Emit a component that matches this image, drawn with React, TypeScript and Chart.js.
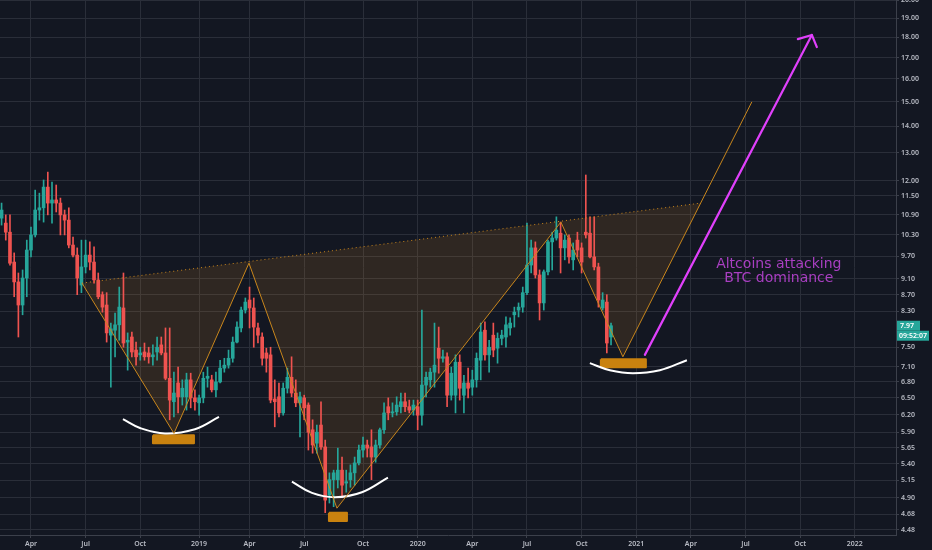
import React, { useEffect, useRef } from "react";
import { Chart, registerables } from "chart.js";

Chart.register(...registerables);

// Weekly candles (x = week index), BTC dominance %
const opens = [
  10.8, 10.65, 10.38, 9.54, 9.02, 8.45, 9.12, 9.87, 10.3, 11.05, 11.12, 11.79, 11.27, 11.37, 11.27, 10.9, 10.74, 10.01, 9.73, 8.94,
  9.41, 9.73, 9.54, 9.07, 8.7, 8.45, 7.76, 7.87, 7.99, 8.38, 7.61, 7.72, 7.44, 7.34, 7.4, 7.38, 7.3, 7.4, 7.55, 7.38,
  6.87, 6.43, 6.78, 6.52, 6.52, 6.84, 6.5, 6.41, 6.5, 6.87, 6.84, 6.65, 6.8, 7.07, 7.13, 7.27, 7.61, 7.92, 8.33, 8.57,
  8.38, 7.92, 7.72, 7.38, 7.34, 6.48, 6.52, 6.23, 6.68, 6.89, 6.59, 6.41, 6.5, 6.37, 5.94, 5.72, 6.02, 5.66, 4.94, 5.16,
  5.16, 5.3, 5.11, 5.16, 5.26, 5.41, 5.61, 5.69, 5.66, 5.5, 5.69, 5.94, 6.34, 6.23, 6.25, 6.34, 6.43, 6.34, 6.28, 6.34,
  6.19, 6.74, 6.84, 6.99, 7.48, 7.27, 7.3, 6.55, 6.55, 7.19, 6.55, 6.78, 6.7, 6.84, 7.23, 7.87, 7.34, 7.76, 7.48, 7.69,
  7.72, 7.92, 8.22, 8.33, 8.4, 8.75, 9.46, 9.93, 9.2, 8.5, 9.28, 10.1, 10.21, 10.35, 9.93, 10.21, 9.6, 10.15, 9.93, 10.38,
  10.35, 9.68, 9.41, 8.38, 8.52, 7.72,
];
const closes = [
  11.05, 10.38, 9.51, 9.02, 8.45, 9.12, 9.87, 10.3, 11.05, 11.12, 11.79, 11.27, 11.37, 11.27, 10.9, 10.74, 10.01, 9.73, 9.12, 9.41,
  9.73, 9.54, 9.07, 8.65, 8.4, 7.81, 7.9, 7.99, 8.4, 7.59, 7.65, 7.4, 7.3, 7.38, 7.3, 7.3, 7.34, 7.5, 7.38, 6.87,
  6.46, 6.59, 6.52, 6.68, 6.84, 6.5, 6.43, 6.5, 6.87, 6.91, 6.65, 6.8, 7.07, 7.13, 7.27, 7.61, 7.94, 8.33, 8.52, 8.38,
  7.94, 7.76, 7.27, 7.27, 6.46, 6.43, 6.23, 6.68, 6.89, 6.59, 6.41, 6.52, 6.32, 5.9, 5.69, 5.9, 5.66, 4.87, 5.16, 5.26,
  5.3, 5.08, 5.13, 5.26, 5.41, 5.61, 5.69, 5.64, 5.5, 5.69, 5.94, 6.23, 6.23, 6.25, 6.37, 6.43, 6.34, 6.28, 6.37, 6.19,
  6.74, 6.89, 6.99, 7.13, 7.27, 7.3, 6.55, 6.97, 7.19, 6.68, 6.78, 6.68, 6.84, 7.27, 7.83, 7.34, 7.5, 7.44, 7.69, 7.76,
  7.99, 8.03, 8.28, 8.4, 8.75, 9.46, 9.93, 9.2, 8.5, 9.28, 10.1, 10.21, 10.44, 9.93, 10.15, 9.68, 9.87, 9.87, 9.54, 10.3,
  9.68, 9.41, 8.57, 8.57, 7.59, 7.97,
];
const highs = [
  11.27, 10.9, 10.9, 9.79, 9.25, 9.33, 10.15, 10.53, 11.69, 11.59, 12.03, 12.3, 11.96, 11.86, 11.43, 11.05, 11.12, 10.24, 9.93, 10.15,
  10.15, 10.1, 9.96, 9.25, 8.77, 8.75, 8.03, 8.26, 8.89, 9.25, 7.81, 7.83, 7.61, 7.5, 7.59, 7.5, 7.55, 7.72, 7.72, 7.92,
  7.92, 6.99, 7.09, 6.84, 6.97, 6.97, 6.65, 6.55, 6.99, 7.09, 6.93, 6.99, 7.23, 7.27, 7.44, 7.72, 8.06, 8.4, 8.62, 8.89,
  8.62, 8.03, 7.81, 7.48, 7.5, 6.84, 6.78, 6.78, 7.07, 7.3, 6.84, 6.61, 6.55, 6.41, 6.11, 6.02, 6.43, 5.77, 5.26, 5.3,
  5.64, 5.5, 5.3, 5.38, 5.5, 5.69, 5.82, 5.77, 5.94, 5.77, 5.97, 6.41, 6.5, 6.41, 6.52, 6.59, 6.59, 6.46, 6.46, 6.46,
  8.33, 6.99, 7.07, 8.03, 7.94, 7.44, 7.38, 7.09, 7.34, 7.34, 6.93, 7.07, 7.03, 7.38, 8.03, 8.06, 7.65, 8.03, 7.81, 7.87,
  8.17, 8.15, 8.4, 8.5, 8.89, 10.65, 10.15, 10.1, 9.33, 9.33, 10.15, 10.38, 10.84, 10.68, 10.3, 10.3, 10.07, 10.38, 10.07, 12.2,
  10.84, 10.84, 9.51, 8.75, 8.7, 8.03,
];
const lows = [
  10.59, 10.15, 9.46, 8.65, 7.72, 8.22, 8.65, 9.68, 10.24, 10.74, 10.68, 10.9, 10.65, 10.99, 10.3, 10.3, 9.93, 9.68, 8.7, 8.75,
  9.25, 9.33, 8.99, 8.6, 8.28, 7.61, 6.7, 7.3, 7.65, 7.5, 7.03, 7.3, 7.13, 7.23, 7.23, 7.17, 7.13, 7.23, 7.34, 6.84,
  6.11, 6.16, 6.23, 6.37, 6.28, 6.32, 6.28, 6.19, 6.41, 6.7, 6.61, 6.52, 6.78, 6.99, 7.07, 7.19, 7.59, 7.83, 8.26, 7.92,
  7.5, 7.59, 7.13, 6.99, 6.41, 5.99, 6.16, 6.19, 6.59, 6.52, 6.34, 5.82, 6.11, 5.61, 5.56, 5.56, 5.62, 4.7, 4.83, 4.78,
  5.04, 4.91, 4.98, 5.05, 5.08, 5.38, 5.5, 5.5, 5.16, 5.42, 5.64, 5.88, 6.11, 6.16, 6.19, 6.23, 6.25, 6.23, 6.19, 5.94,
  6.02, 6.52, 6.7, 6.7, 6.97, 7.19, 6.34, 6.46, 6.23, 6.46, 6.23, 6.5, 6.55, 6.7, 6.84, 7.23, 6.99, 7.3, 7.17, 7.55,
  7.5, 7.76, 7.94, 8.17, 8.28, 8.7, 9.25, 9.12, 8.1, 8.33, 9.2, 9.33, 10.15, 9.25, 9.6, 9.51, 9.33, 9.68, 9.25, 10.21,
  9.65, 9.33, 8.4, 8.33, 7.38, 7.55,
];

// Axis ticks
const yTickValues = [20, 19, 18, 17, 16, 15, 14, 13, 12, 11.5, 10.9, 10.3, 9.7, 9.1, 8.7, 8.3, 7.5, 7.1, 6.8, 6.5, 6.2, 5.9, 5.65, 5.4, 5.15, 4.9, 4.68, 4.48];
const xTickPositions = [7, 20, 33, 47, 59, 72, 86, 99, 112, 125, 138, 151, 164, 177, 190, 203];
const xTickLabels = ["Apr", "Jul", "Oct", "2019", "Apr", "Jul", "Oct", "2020", "Apr", "Jul", "Oct", "2021", "Apr", "Jul", "Oct", "2022"];

// Drawings (x = week index, y = value)
const patternX = [19.13, 41.01, 58.86, 79.79, 133.07, 147.82, 178.51];
const patternY = [8.99, 5.88, 9.51, 4.76, 10.68, 7.3, 15.0];
const trendX = [19.13, 166.38];
const trendY = [8.99, 11.27];
const shapeX = [19.13, 41.01, 58.86, 79.79, 133.07, 147.82, 166.38, 19.13];
const shapeY = [8.99, 5.88, 9.51, 4.76, 10.68, 7.3, 11.27, 8.99];
const arc1X = [28.88, 32.93, 38.88, 46.01, 51.72];
const arc1Y = [6.12, 5.97, 5.88, 5.95, 6.16];
const arc2X = [69.08, 73.84, 79.31, 85.73, 91.92];
const arc2Y = [5.13, 4.97, 4.91, 4.98, 5.19];
const arc3X = [139.97, 144.73, 150.2, 156.62, 163.05];
const arc3Y = [7.17, 7.03, 6.97, 7.03, 7.23];
const box1X = [36.02, 45.77, 45.77, 36.02, 36.02];
const box1Y = [5.85, 5.85, 5.72, 5.72, 5.85];
const box2X = [77.89, 82.17, 82.17, 77.89, 77.89];
const box2Y = [4.7, 4.7, 4.59, 4.59, 4.7];
const box3X = [142.58, 153.29, 153.29, 142.58, 142.58];
const box3Y = [7.25, 7.25, 7.09, 7.09, 7.25];
const arrowX = [153.05, 192.78];
const arrowY = [7.34, 18.12];
const arrowHeadX = [189.45, 192.78, 193.97];
const arrowHeadY = [17.91, 18.12, 17.51];
const noteLines = ["Altcoins attacking", "BTC dominance"];
const noteX = 184.92;
const noteY = 9.3;
const timerText = "09:52:07";

const X_MIN = -0.373;
const X_MAX = 212.8;
const Y_MIN = 4.413;
const Y_MAX = 20.0;

const UP = "#26a69a";
const DOWN = "#ef5350";
const GRID = "#2a2e39";
const AXIS = "#3c404b";
const TEXT = "#b8bbc4";
const ORANGE = "#c8861c";
const BOX = "#c9820f";

export default function App() {
  const ref = useRef<HTMLCanvasElement | null>(null);

  useEffect(() => {
    const canvas = ref.current;
    if (!canvas) return;
    const colors = closes.map((c, i) => (c >= opens[i] ? UP : DOWN));
    const pts = (xs: number[], ys: number[]) => xs.map((x, i) => ({ x, y: ys[i] }));

    const bgPlugin = {
      id: "bg",
      beforeDraw(chart: any) {
        const ctx = chart.ctx;
        ctx.save();
        ctx.fillStyle = "#131722";
        ctx.fillRect(0, 0, chart.width, chart.height);
        ctx.restore();
      },
    };

    const notesPlugin = {
      id: "notes",
      afterDatasetsDraw(chart: any) {
        const { ctx } = chart;
        const x = chart.scales.x;
        const y = chart.scales.y;
        ctx.save();
        ctx.fillStyle = "#a93fc2";
        ctx.font = "14px 'DejaVu Sans'";
        ctx.textAlign = "center";
        ctx.textBaseline = "middle";
        const px = x.getPixelForValue(noteX);
        const py = y.getPixelForValue(noteY);
        ctx.fillText(noteLines[0], px, py - 6.4);
        ctx.fillText(noteLines[1], px, py + 7);
        ctx.restore();
      },
      afterDraw(chart: any) {
        const { ctx } = chart;
        const y = chart.scales.y;
        const last = closes[closes.length - 1];
        const py = y.getPixelForValue(last);
        const left = chart.chartArea.right + 1;
        ctx.save();
        ctx.fillStyle = UP;
        ctx.fillRect(left, py - 5, 23, 10);
        ctx.fillRect(left, py + 5, 32, 10);
        ctx.fillStyle = "#ffffff";
        ctx.font = "600 7px 'Noto Sans'";
        ctx.textAlign = "left";
        ctx.textBaseline = "middle";
        ctx.fillText(last.toFixed(2), left + 3, py);
        ctx.fillText(timerText, left + 2, py + 10);
        ctx.restore();
      },
    };

    const lineDs = (data: any[], color: string, width: number, extra: any = {}) => ({
      type: "line",
      data,
      borderColor: color,
      borderWidth: width,
      pointRadius: 0,
      fill: false,
      tension: 0,
      order: 1,
      ...extra,
    });

    const chart = new Chart(canvas, {
      type: "bar",
      data: {
        datasets: [
          lineDs(pts(shapeX, shapeY), "rgba(0,0,0,0)", 0, {
            fill: "shape",
            backgroundColor: "rgba(240,150,40,0.13)",
            order: 10,
          }),
          {
            type: "bar",
            data: closes.map((_, i) => ({ x: i, y: [lows[i], highs[i]] })),
            backgroundColor: colors,
            barThickness: 1,
            grouped: false,
            borderWidth: 0,
            order: 6,
          },
          {
            type: "bar",
            data: closes.map((c, i) => ({ x: i, y: [opens[i], c] })),
            backgroundColor: colors,
            barThickness: 3,
            grouped: false,
            borderWidth: 0,
            minBarLength: 1,
            order: 5,
          },
          lineDs(pts(trendX, trendY), ORANGE, 1, { borderDash: [1, 3] }),
          lineDs(pts(patternX, patternY), ORANGE, 1),
          lineDs(pts(arc1X, arc1Y), "#ffffff", 2, { tension: 0.4 }),
          lineDs(pts(arc2X, arc2Y), "#ffffff", 2, { tension: 0.4 }),
          lineDs(pts(arc3X, arc3Y), "#ffffff", 2, { tension: 0.4 }),
          lineDs(pts(box1X, box1Y), BOX, 2, { fill: "shape", backgroundColor: BOX, borderJoinStyle: "round" }),
          lineDs(pts(box2X, box2Y), BOX, 2, { fill: "shape", backgroundColor: BOX, borderJoinStyle: "round" }),
          lineDs(pts(box3X, box3Y), BOX, 2, { fill: "shape", backgroundColor: BOX, borderJoinStyle: "round" }),
          lineDs(pts(arrowX, arrowY), "#e040fb", 2.2, { borderCapStyle: "round" }),
          lineDs(pts(arrowHeadX, arrowHeadY), "#e040fb", 2.2, { borderCapStyle: "round", borderJoinStyle: "round" }),
        ] as any,
      },
      options: {
        responsive: false,
        animation: false,
        events: [],
        layout: { padding: 0, autoPadding: false },
        plugins: { legend: { display: false }, tooltip: { enabled: false } },
        scales: {
          x: {
            type: "linear",
            min: X_MIN,
            max: X_MAX,
            offset: false,
            grid: { color: GRID, tickLength: 3, tickColor: AXIS, offset: false },
            border: { display: true, color: AXIS },
            ticks: {
              color: TEXT,
              font: { family: "Noto Sans", size: 7, weight: "600" },
              autoSkip: false,
              maxRotation: 0,
              padding: 2,
              callback: (_v: any, i: number) => xTickLabels[i] ?? "",
            },
            afterBuildTicks: (s: any) => {
              s.ticks = xTickPositions.map((v) => ({ value: v }));
            },
            afterFit: (s: any) => {
              s.height = 15;
              s.paddingLeft = 0;
              s.paddingRight = 0;
            },
          },
          y: {
            type: "logarithmic",
            position: "right",
            min: Y_MIN,
            max: Y_MAX,
            grid: { color: GRID, tickLength: 3, tickColor: AXIS },
            border: { display: true, color: AXIS },
            ticks: {
              color: TEXT,
              font: { family: "Noto Sans", size: 7, weight: "600" },
              autoSkip: false,
              padding: 2,
              callback: (v: any) => Number(v).toFixed(2),
            },
            afterBuildTicks: (s: any) => {
              s.ticks = yTickValues.map((v) => ({ value: v }));
            },
            afterFit: (s: any) => {
              s.width = 36;
              s.paddingTop = 0;
              s.paddingBottom = 0;
            },
          },
        },
      } as any,
      plugins: [bgPlugin, notesPlugin],
    });

    return () => chart.destroy();
  }, []);

  return (
    <div style={{ position: "absolute", left: 0, top: 0, width: 932, height: 550, background: "#131722" }}>
      <canvas ref={ref} width={932} height={550} style={{ display: "block", width: 932, height: 550 }} />
    </div>
  );
}
